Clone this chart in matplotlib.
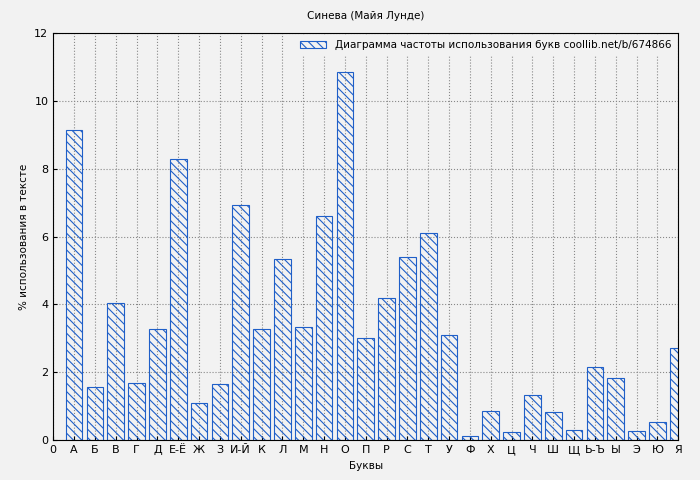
import matplotlib
matplotlib.use("Agg")
import matplotlib.pyplot as plt

letters = ["А", "Б", "В", "Г", "Д", "Е-Ё", "Ж", "З", "И-Й", "К", "Л", "М", "Н", "О", "П",
           "Р", "С", "Т", "У", "Ф", "Х", "Ц", "Ч", "Ш", "Щ", "Ь-Ъ", "Ы", "Э", "Ю", "Я"]
percent = [9.14, 1.56, 4.04, 1.68, 3.27, 8.29, 1.09, 1.65, 6.93, 3.27, 5.34, 3.33, 6.61, 10.86, 3.01,
           4.19, 5.40, 6.11, 3.10, 0.12, 0.86, 0.24, 1.33, 0.83, 0.29, 2.15, 1.83, 0.27, 0.53, 2.71]

bg = "#f2f2f2"
plt.rcParams["hatch.color"] = "#1f5fc8"
plt.rcParams["hatch.linewidth"] = 0.8
fig, ax = plt.subplots(figsize=(7, 4.8), dpi=100)
fig.patch.set_facecolor(bg)
ax.set_facecolor(bg)
fig.subplots_adjust(left=0.076, right=0.969, top=0.931, bottom=0.083)

pos = list(range(1, len(letters) + 1))
ax.bar(pos, percent, width=0.8, facecolor="none", edgecolor="#1f5fc8", hatch="\\\\\\\\",
       linewidth=0.8, label="Диаграмма частоты использования букв coollib.net/b/674866")

ax.set_xlim(0, 30)
ax.set_ylim(0, 12)
ax.set_xticks([0] + pos)
ax.set_xticklabels(["0"] + letters, fontsize=8)
ax.tick_params(axis="y", labelsize=8)
ax.tick_params(direction="in", length=3)
ax.grid(True, linestyle=":", color="#888888", linewidth=0.8)
ax.set_axisbelow(True)
ax.set_title("Синева (Майя Лунде)", fontsize=7.5, pad=10)
ax.set_xlabel("Буквы", fontsize=7.5)
ax.set_ylabel("% использования в тексте", fontsize=7.5)
leg = ax.legend(loc="upper right", fontsize=7.5, frameon=True, fancybox=False,
                framealpha=1, edgecolor=bg, facecolor=bg, handlelength=2.5,
                borderaxespad=0.3)
fig.savefig("out.png", facecolor=bg)
